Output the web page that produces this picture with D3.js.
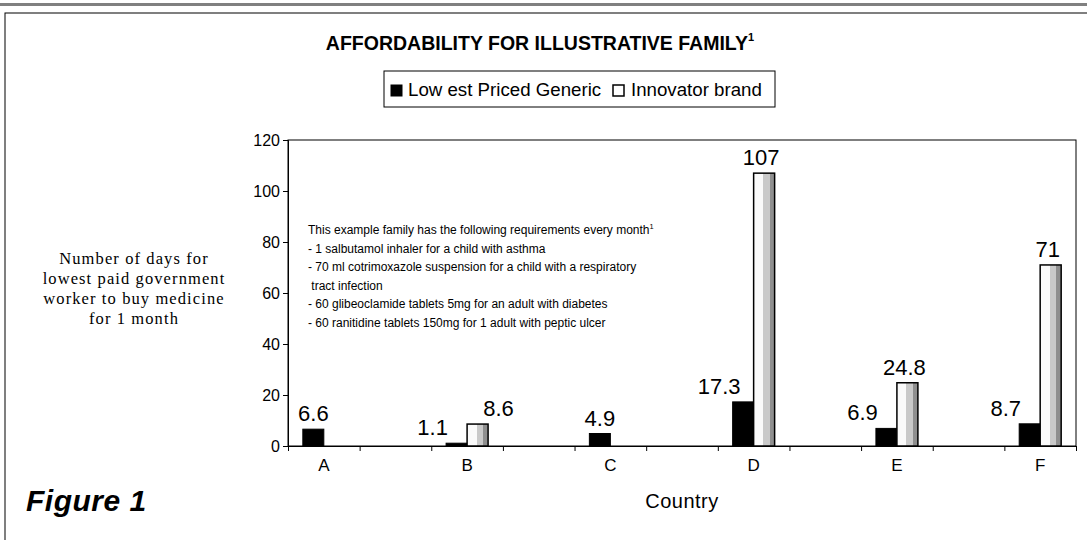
<!DOCTYPE html>
<html>
<head>
<meta charset="utf-8">
<script src="https://cdn.jsdelivr.net/npm/d3@7"></script>
<style>
  body { margin: 0; background: #fff; }
  svg { display: block; font-family: "Liberation Sans", Arial, sans-serif; }
</style>
</head>
<body>
<svg id="chart" width="1087" height="540"></svg>
<script>
// chart values
const countries = ["A", "B", "C", "D", "E", "F"];
const genericDays = [6.6, 1.1, 4.9, 17.3, 6.9, 8.7];
const innovatorDays = [null, 8.6, null, 107, 24.8, 71];
const yTicks = [0, 20, 40, 60, 80, 100, 120];
const seriesNames = ["Low est Priced Generic", "Innovator brand"];
const yTitleLines = ["Number of days for", "lowest paid government", "worker to buy medicine", "for 1 month"];
const noteLines = [
    "This example family has the following requirements every month",
    "- 1 salbutamol inhaler for a child with asthma",
    "- 70 ml cotrimoxazole suspension for a child with a respiratory",
    " tract infection",
    "- 60 glibeoclamide tablets 5mg for an adult with diabetes",
    "- 60 ranitidine tablets 150mg for 1 adult with peptic ulcer"
];

let svg = d3.select("#chart");
let plot = { left: 288, right: 1076, top: 140, bottom: 446 };

// empty slot between every two countries, like the original sheet
let slots = countries.flatMap((c, i) => i < countries.length - 1 ? [c, "gap" + i] : [c]);

let x = d3.scaleBand().domain(slots).range([plot.left, plot.right]);
let xEdge = d3.scaleLinear().domain([0, slots.length]).range([plot.left, plot.right]);
let y = d3.scaleLinear().domain([0, 120]).range([plot.bottom, plot.top]);
let barW = x.bandwidth() * 0.293;

let data = countries.map((c, i) => ({ country: c, gen: genericDays[i], inn: innovatorDays[i] }));

// gradient for the innovator bars
let grad = svg.append("defs").append("linearGradient").attr("id", "innGrad");
[[0, "#fafafa"], [0.45, "#fafafa"], [0.45, "#c9c9c9"], [0.76, "#c9c9c9"], [0.76, "#8f8f8f"], [1, "#8f8f8f"]]
    .forEach(s => grad.append("stop").attr("offset", s[0]).attr("stop-color", s[1]));

// outer frame + top rule
svg.append("rect").attr("x", 0).attr("y", 3).attr("width", 1087).attr("height", 3).attr("fill", "#808080");
svg.append("rect").attr("x", 5).attr("y", 13).attr("width", 1120).attr("height", 560)
    .attr("fill", "none").attr("stroke", "#000");

// title
let title = svg.append("text").attr("x", 540).attr("y", 50).attr("text-anchor", "middle")
    .attr("font-weight", "bold").attr("font-size", 19.5).text("AFFORDABILITY FOR ILLUSTRATIVE FAMILY");
title.append("tspan").attr("font-size", 11).attr("dy", -9).text("1");

// legend
let legend = svg.append("g").attr("font-size", 18.7);
legend.append("rect").attr("x", 384).attr("y", 71).attr("width", 391).attr("height", 36)
    .attr("fill", "#fff").attr("stroke", "#000");
legend.append("rect").attr("x", 391).attr("y", 85).attr("width", 11).attr("height", 11)
    .attr("fill", "#000").attr("stroke", "#000");
legend.append("text").attr("x", 408).attr("y", 96).text(seriesNames[0]);
legend.append("rect").attr("x", 613).attr("y", 85).attr("width", 11).attr("height", 11)
    .attr("fill", "#fff").attr("stroke", "#000").attr("stroke-width", 1.5);
legend.append("text").attr("x", 631).attr("y", 96).text(seriesNames[1]);

// plot border
svg.append("rect").attr("x", plot.left).attr("y", plot.top)
    .attr("width", plot.right - plot.left).attr("height", plot.bottom - plot.top)
    .attr("fill", "none").attr("stroke", "#000");

// y axis
let yAxis = svg.append("g").attr("transform", `translate(${plot.left},0)`)
    .call(d3.axisLeft(y).tickValues(yTicks).tickSize(5).tickPadding(3));
yAxis.select(".domain").attr("stroke", "#000");
yAxis.selectAll("text").attr("font-size", 16).attr("fill", "#000").attr("font-family", "Liberation Sans, Arial");

// x axis: ticks on slot edges, labels in the middle of the country slots
svg.append("g").attr("transform", `translate(0,${plot.bottom})`)
    .call(d3.axisBottom(xEdge).tickValues(d3.range(slots.length + 1)).tickSize(5).tickFormat(""))
    .select(".domain").attr("stroke", "#000");
let xAxis = svg.append("g").attr("transform", `translate(0,${plot.bottom})`)
    .call(d3.axisBottom(x).tickSize(0).tickPadding(13).tickFormat(d => countries.includes(d) ? d : ""));
xAxis.select(".domain").remove();
xAxis.selectAll("text").attr("font-size", 17).attr("fill", "#000").attr("font-family", "Liberation Sans, Arial");

// bars
let groups = svg.append("g").selectAll("g").data(data).join("g")
    .attr("transform", d => `translate(${x(d.country) + x.bandwidth() / 2},0)`);

groups.append("rect")
    .attr("x", -barW).attr("width", barW)
    .attr("y", d => y(d.gen)).attr("height", d => y(0) - y(d.gen))
    .attr("fill", "#000").attr("stroke", "#000");

groups.filter(d => d.inn != null).append("rect")
    .attr("x", 0).attr("width", barW)
    .attr("y", d => y(d.inn)).attr("height", d => y(0) - y(d.inn))
    .attr("fill", "url(#innGrad)").attr("stroke", "#000").attr("stroke-width", 1.5);

// value labels
groups.append("text")
    .attr("x", d => -barW / 2 - (d.inn != null ? barW + 3 : 0))
    .attr("y", d => y(d.gen) - 8)
    .attr("text-anchor", "middle").attr("font-size", 22)
    .text(d => d.gen);

groups.filter(d => d.inn != null).append("text")
    .attr("x", d => barW / 2 + (Math.abs(d.inn - d.gen) < 12 ? barW : -3))
    .attr("y", d => y(d.inn) - 8)
    .attr("text-anchor", "middle").attr("font-size", 22)
    .text(d => d.inn);

// note inside the plot
let note = svg.append("text").attr("font-size", 12);
noteLines.forEach((t, i) => {
    note.append("tspan").attr("x", 308).attr("y", 234 + i * 18.6).attr("xml:space", "preserve").text(t);
    if (i == 0) {
        note.append("tspan").attr("font-size", 7.5).attr("dy", -5).text("1");
    }
});

// y axis title
let yTitle = svg.append("text").attr("text-anchor", "middle")
    .attr("font-family", "Liberation Serif, serif").attr("font-size", 16.5).attr("letter-spacing", 1.1);
yTitleLines.forEach((t, i) => {
    yTitle.append("tspan").attr("x", 134).attr("y", 264 + i * 20).text(t);
});

// x axis title and figure caption
svg.append("text").attr("x", (plot.left + plot.right) / 2).attr("y", 508)
    .attr("text-anchor", "middle").attr("font-size", 20).attr("letter-spacing", 0.5).text("Country");
svg.append("text").attr("x", 26).attr("y", 511)
    .attr("font-size", 30).attr("font-weight", "bold").attr("font-style", "italic")
    .attr("letter-spacing", 0.5).text("Figure 1");
</script>
</body>
</html>
